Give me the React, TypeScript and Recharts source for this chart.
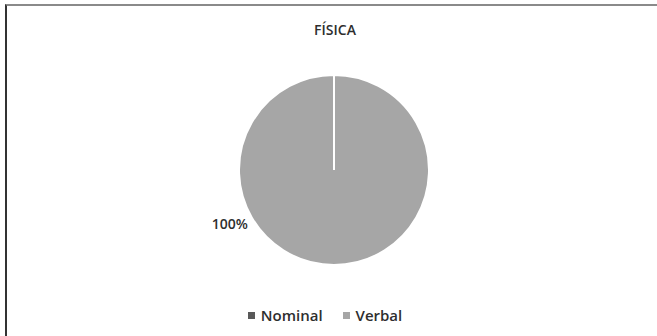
import React from "react";
import { PieChart, Pie, Cell, Legend } from "recharts";

const categories = ["Nominal", "Verbal"];
const values = [0, 100];
const colors = ["#595959", "#a6a6a6"];
const title = "FÍSICA";

const data = categories.map((name, i) => ({ name, value: values[i] }));

const FONT = "'Open Sans', sans-serif";
const TEXT_COLOR = "#2e2e2e";
const RADIAN = Math.PI / 180;
const LABEL_ANGLE = 207;
const LABEL_OFFSET = 22;

const renderLabel = (props: any) => {
  const { cx, cy, outerRadius, percent, value } = props;
  if (!value) return null;
  const r = outerRadius + LABEL_OFFSET;
  const x = cx + r * Math.cos(-LABEL_ANGLE * RADIAN);
  const y = cy + r * Math.sin(-LABEL_ANGLE * RADIAN);
  return (
    <text
      x={x}
      y={y}
      textAnchor="middle"
      dominantBaseline="central"
      fill={TEXT_COLOR}
      fontFamily={FONT}
      fontSize={14}
      fontWeight={600}
    >
      {`${Math.round(percent * 100)}%`}
    </text>
  );
};

const renderLegend = (props: any) => {
  const { payload } = props;
  return (
    <div style={{ display: "flex", justifyContent: "center", gap: 20 }}>
      {payload.map((entry: any) => (
        <div key={entry.value} style={{ display: "flex", alignItems: "center" }}>
          <span
            style={{
              display: "inline-block",
              width: 7,
              height: 7,
              background: entry.color,
              marginRight: 6,
            }}
          />
          <span
            style={{
              fontFamily: FONT,
              fontSize: 15,
              fontWeight: 600,
              color: TEXT_COLOR,
            }}
          >
            {entry.value}
          </span>
        </div>
      ))}
    </div>
  );
};

export default function App() {
  return (
    <div
      style={{
        position: "absolute",
        left: 0,
        top: 0,
        width: 657,
        height: 336,
        background: "#fff",
        overflow: "hidden",
      }}
    >
      <div
        style={{
          position: "absolute",
          left: 5,
          top: 4,
          right: -2,
          bottom: -2,
          borderTop: "2px solid #8a8a8a",
          borderLeft: "2px solid #333",
        }}
      />
      <div
        style={{
          position: "absolute",
          left: 0,
          top: 20,
          width: 670,
          textAlign: "center",
          fontFamily: FONT,
          fontSize: 14,
          fontWeight: 600,
          color: TEXT_COLOR,
        }}
      >
        {title}
      </div>
      <div style={{ position: "absolute", left: 0, top: 0 }}>
        <PieChart
          width={657}
          height={336}
          margin={{ top: 0, right: 0, bottom: 0, left: 0 }}
        >
          <Pie
            data={data}
            dataKey="value"
            nameKey="name"
            cx={334}
            cy={170}
            outerRadius={95}
            startAngle={90}
            endAngle={-270}
            stroke="#ffffff"
            strokeWidth={2}
            label={renderLabel}
            labelLine={false}
            isAnimationActive={false}
          >
            {data.map((d, i) => (
              <Cell key={d.name} fill={colors[i]} />
            ))}
          </Pie>
          <Legend
            content={renderLegend}
            wrapperStyle={{ position: "absolute", top: 305, left: 0, width: 650 }}
          />
        </PieChart>
      </div>
    </div>
  );
}
